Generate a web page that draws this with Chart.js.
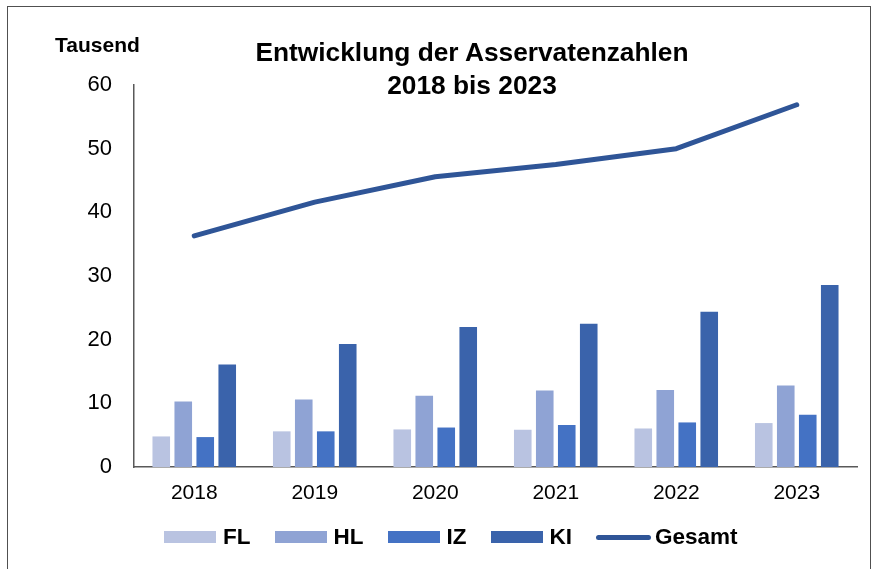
<!DOCTYPE html>
<html lang="de">
<head>
  <meta charset="UTF-8">
  <title>Entwicklung der Asservatenzahlen 2018 bis 2023</title>
  <script src="https://cdn.jsdelivr.net/npm/chart.js"></script>
  <style>
    body {
      margin: 0;
      background: white;
      font-family: "Liberation Sans", Arial, sans-serif;
      color: black;
    }
    .frame {
      position: absolute;
      left: 7px;
      top: 6px;
      width: 862px;
      height: 600px;
      border: 1.5px solid #505050;
    }
    .wrap {
      position: absolute;
      left: 0;
      top: 0;
      width: 877px;
      height: 569px;
    }
    .title {
      position: absolute;
      left: 222px;
      width: 500px;
      top: 36px;
      text-align: center;
      font-weight: bold;
      font-size: 26.3px;
      line-height: 33px;
    }
    .unit {
      position: absolute;
      left: 55px;
      top: 33px;
      font-weight: bold;
      font-size: 21px;
      line-height: 24px;
    }
    .legend-container {
      position: absolute;
      left: 164px;
      top: 523px;
      display: flex;
      align-items: center;
      height: 28px;
    }
    .legend-item {
      display: flex;
      align-items: center;
      margin-right: 24px;
      font-weight: bold;
      font-size: 22.5px;
    }
    .legend-color {
      width: 52px;
      height: 12px;
      margin-right: 7px;
    }
    .legend-line {
      width: 55px;
      height: 5px;
      border-radius: 3px;
      margin-right: 4px;
    }
  </style>
</head>
<body>
  <div class="frame"></div>
  <div class="wrap">
    <canvas id="chart" width="877" height="569"></canvas>
  </div>
  <div class="unit">Tausend</div>
  <div class="title">Entwicklung der Asservatenzahlen<br>2018 bis 2023</div>
  <div id="legend" class="legend-container"></div>

  <script>
    const years = ['2018', '2019', '2020', '2021', '2022', '2023'];
    const fl = [4.8, 5.6, 5.9, 5.85, 6.05, 6.9];
    const hl = [10.3, 10.6, 11.2, 12.0, 12.1, 12.8];
    const iz = [4.7, 5.6, 6.2, 6.6, 7.0, 8.2];
    const ki = [16.1, 19.3, 22.0, 22.5, 24.4, 28.6];
    const gesamt = [36.3, 41.6, 45.6, 47.5, 50.0, 56.9];
    const yTicks = [0, 10, 20, 30, 40, 50, 60];

    const axisColor = '#595959';

    function bar(label, data, color) {
      return {
        type: 'bar',
        label: label,
        data: data,
        backgroundColor: color,
        borderWidth: 0,
        categoryPercentage: 0.73,
        barPercentage: 0.8,
        order: 1
      };
    }

    const chart = new Chart(document.getElementById('chart'), {
      data: {
        labels: years,
        datasets: [
          bar('FL', fl, '#B9C3E1'),
          bar('HL', hl, '#8FA3D4'),
          bar('IZ', iz, '#4472C4'),
          bar('KI', ki, '#3A63AB'),
          {
            type: 'line',
            label: 'Gesamt',
            data: gesamt,
            borderColor: '#2F5597',
            backgroundColor: '#2F5597',
            borderWidth: 5,
            borderCapStyle: 'round',
            borderJoinStyle: 'round',
            pointRadius: 0,
            tension: 0,
            order: 0
          }
        ]
      },
      options: {
        responsive: false,
        animation: false,
        layout: {
          padding: { left: 84, right: 20, top: 85, bottom: 62 }
        },
        plugins: {
          legend: { display: false },
          title: { display: false },
          tooltip: { enabled: false }
        },
        scales: {
          x: {
            grid: { display: false, drawTicks: false },
            border: { display: true, color: axisColor, width: 1.5 },
            ticks: {
              color: '#000',
              padding: 14,
              font: { family: '"Liberation Sans", Arial, sans-serif', size: 21 }
            },
            afterFit: (scale) => { scale.height = 40; }
          },
          y: {
            min: 0,
            max: 60,
            grid: { display: false, drawTicks: false },
            border: { display: true, color: axisColor, width: 1.5 },
            afterBuildTicks: (scale) => {
              scale.ticks = yTicks.map(v => ({ value: v }));
            },
            ticks: {
              color: '#000',
              padding: 22,
              font: { family: '"Liberation Sans", Arial, sans-serif', size: 22 }
            },
            afterFit: (scale) => { scale.width = 50; }
          }
        }
      }
    });

    createLegend(chart, 'legend');

    function createLegend(chart, legendId) {
      const container = document.getElementById(legendId);
      chart.data.datasets.forEach((dataset) => {
        const item = document.createElement('div');
        item.classList.add('legend-item');

        const mark = document.createElement('div');
        mark.classList.add(dataset.type === 'line' ? 'legend-line' : 'legend-color');
        mark.style.backgroundColor = dataset.type === 'line' ? dataset.borderColor : dataset.backgroundColor;

        const label = document.createElement('span');
        label.textContent = dataset.label;

        item.appendChild(mark);
        item.appendChild(label);
        container.appendChild(item);
      });
    }
  </script>
</body>
</html>
